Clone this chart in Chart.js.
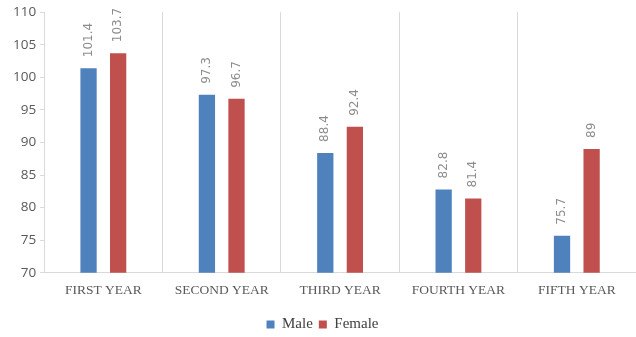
<!DOCTYPE html>
<html>
<head>
<meta charset="utf-8">
<script src="https://cdn.jsdelivr.net/npm/chart.js@4/dist/chart.umd.min.js"></script>
<style>
  html, body { margin: 0; padding: 0; background: #fff; }
  #wrap { width: 636px; height: 337px; }
</style>
</head>
<body>
<div id="wrap"><canvas id="chart"></canvas></div>
<script>
const categories = ["FIRST YEAR", "SECOND YEAR", "THIRD YEAR", "FOURTH YEAR", "FIFTH YEAR"];
const maleValues = [101.4, 97.3, 88.4, 82.8, 75.7];
const femaleValues = [103.7, 96.7, 92.4, 81.4, 89];
const yTicks = [70, 75, 80, 85, 90, 95, 100, 105, 110];

// value labels written upright above each bar
const barLabels = {
  id: "barLabels",
  afterDatasetsDraw(chart) {
    const ctx = chart.ctx;
    ctx.save();
    ctx.font = "12px 'DejaVu Sans'";
    ctx.fillStyle = "#8c8c8c";
    ctx.textAlign = "left";
    ctx.textBaseline = "middle";
    chart.data.datasets.forEach((ds, i) => {
      chart.getDatasetMeta(i).data.forEach((bar, j) => {
        ctx.save();
        ctx.translate(bar.x, bar.y - 11);
        ctx.rotate(-Math.PI / 2);
        ctx.fillText(String(ds.data[j]), 0, 0);
        ctx.restore();
      });
    });
    ctx.restore();
  }
};

new Chart(document.getElementById("chart"), {
  type: "bar",
  data: {
    labels: categories,
    datasets: [
      { label: "Male", data: maleValues, backgroundColor: "#4F81BD" },
      { label: "Female", data: femaleValues, backgroundColor: "#C0504D" }
    ]
  },
  options: {
    responsive: true,
    maintainAspectRatio: false,
    animation: false,
    categoryPercentage: 0.5,
    barPercentage: 0.55,
    layout: { padding: { top: 7, right: 0, left: 9, bottom: -5 } },
    plugins: {
      legend: {
        position: "bottom",
        labels: {
          boxWidth: 8,
          boxHeight: 8,
          padding: 6,
          color: "#404040",
          font: { family: "'Liberation Serif'", size: 15 }
        }
      },
      tooltip: { enabled: false }
    },
    scales: {
      x: {
        afterFit(scale) { scale.height += 2; },
        grid: { display: true, offset: true, color: "#d9d9d9", drawTicks: false },
        border: { color: "#d9d9d9" },
        ticks: {
          color: "#595959",
          padding: 10,
          maxRotation: 0,
          font: { family: "'Liberation Serif'", size: 13.5 }
        }
      },
      y: {
        min: 70,
        max: 110,
        afterBuildTicks(scale) { scale.ticks = yTicks.map(v => ({ value: v })); },
        grid: { display: true, drawOnChartArea: false, color: "#d9d9d9", tickLength: 4 },
        border: { color: "#d9d9d9" },
        ticks: {
          color: "#595959",
          padding: 4,
          font: { family: "'Open Sans'", size: 13.5 }
        }
      }
    }
  },
  plugins: [barLabels]
});
</script>
</body>
</html>
